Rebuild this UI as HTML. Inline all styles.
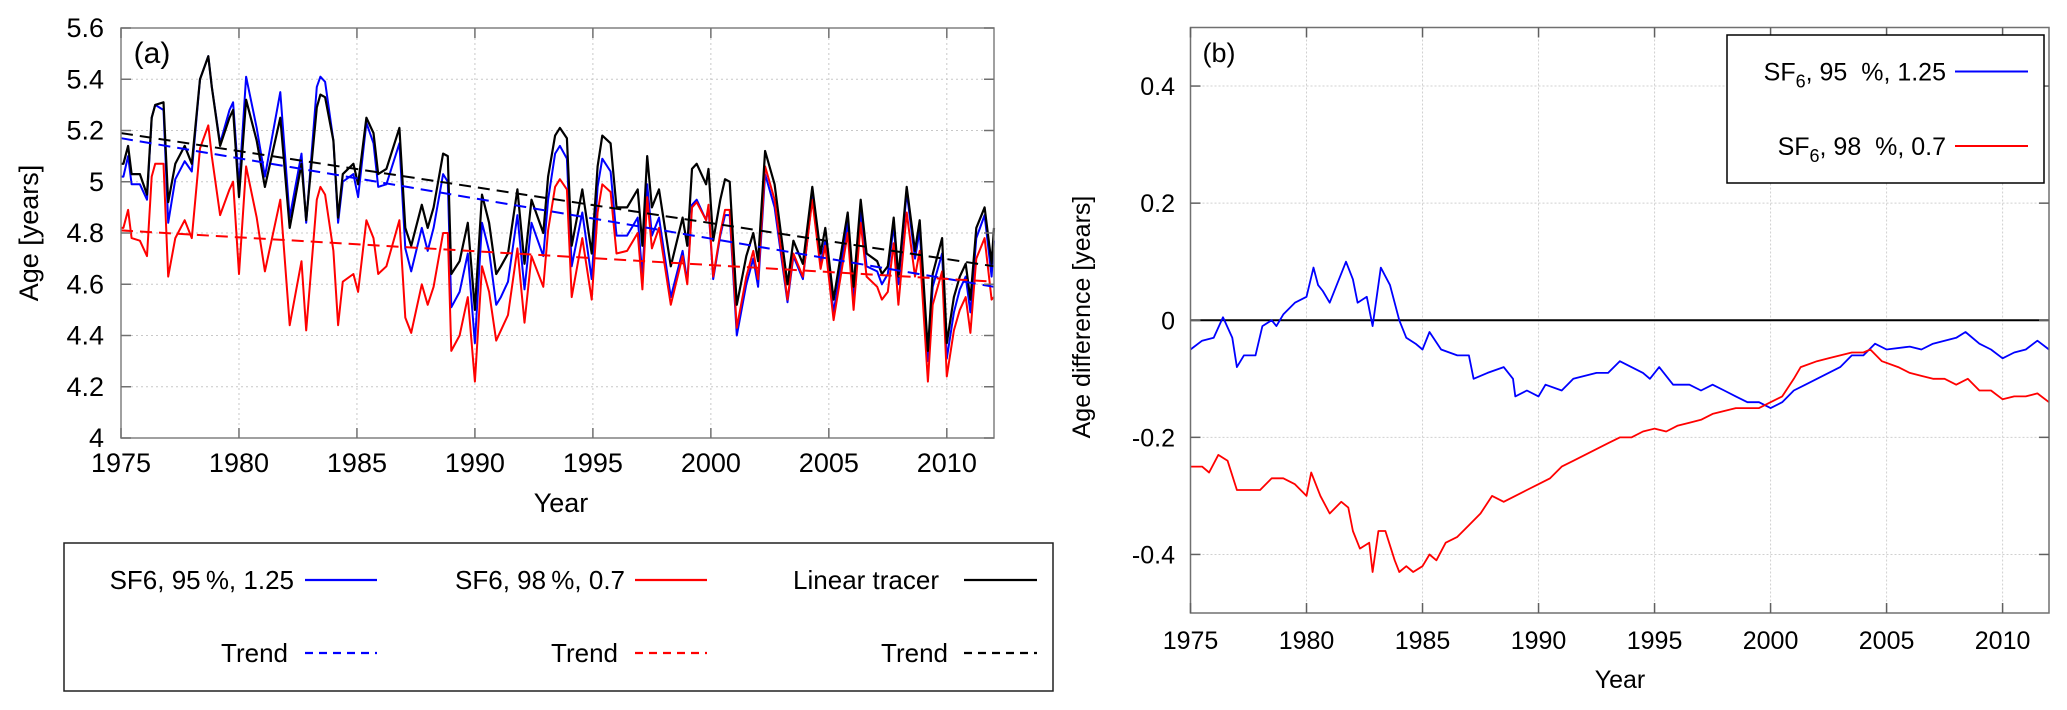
<!DOCTYPE html>
<html><head><meta charset="utf-8"><style>
body{margin:0;background:#fff}
svg{display:block;font-family:"Liberation Sans",Arial,sans-serif}
</style></head><body>
<svg id="fig" width="2067" height="710" viewBox="0 0 2067 710" xmlns="http://www.w3.org/2000/svg">
<g id="pa"></g>
<g id="pb"></g>
</svg>
<script>
// ---- Panel (a) data ----
const yearsA = [1975.02,1975.1,1975.3,1975.45,1975.8,1976.1,1976.3,1976.45,1976.8,1977.0,1977.3,1977.7,1978.0,1978.35,1978.7,1978.85,1979.2,1979.6,1979.75,1980.0,1980.3,1980.75,1981.1,1981.75,1982.15,1982.65,1982.85,1983.3,1983.45,1983.65,1984.0,1984.2,1984.4,1984.85,1985.05,1985.4,1985.7,1985.9,1986.25,1986.8,1987.05,1987.3,1987.75,1988.0,1988.25,1988.65,1988.85,1989.0,1989.35,1989.7,1990.0,1990.3,1990.6,1990.9,1991.1,1991.4,1991.8,1992.1,1992.4,1992.9,1993.1,1993.4,1993.6,1993.9,1994.1,1994.55,1994.95,1995.2,1995.4,1995.75,1996.0,1996.45,1996.9,1997.1,1997.3,1997.5,1997.8,1998.3,1998.8,1999.0,1999.2,1999.4,1999.8,1999.9,2000.1,2000.4,2000.6,2000.8,2001.1,2001.5,2001.8,2002.0,2002.3,2002.7,2003.25,2003.5,2003.9,2004.3,2004.65,2004.85,2005.2,2005.8,2006.05,2006.35,2006.6,2007.05,2007.25,2007.5,2007.75,2007.95,2008.3,2008.65,2008.85,2009.2,2009.4,2009.8,2010.0,2010.3,2010.55,2010.8,2011.0,2011.25,2011.6,2011.9,2012.0];
const linearA = [5.07,5.07,5.14,5.03,5.03,4.95,5.25,5.30,5.31,4.92,5.07,5.14,5.07,5.40,5.49,5.37,5.14,5.25,5.28,4.94,5.32,5.16,4.98,5.25,4.82,5.07,4.85,5.29,5.34,5.33,5.16,4.86,5.03,5.07,4.99,5.25,5.19,5.03,5.05,5.21,4.82,4.75,4.91,4.82,4.90,5.11,5.10,4.64,4.69,4.84,4.50,4.95,4.84,4.64,4.67,4.72,4.97,4.68,4.93,4.80,5.02,5.18,5.21,5.17,4.75,4.97,4.72,5.06,5.18,5.15,4.90,4.90,4.97,4.75,5.10,4.90,4.97,4.67,4.86,4.75,5.05,5.07,4.99,5.05,4.77,4.93,5.01,5.00,4.52,4.71,4.80,4.69,5.12,4.99,4.60,4.77,4.68,4.98,4.72,4.82,4.54,4.88,4.59,4.93,4.72,4.69,4.64,4.67,4.86,4.63,4.98,4.73,4.85,4.34,4.64,4.78,4.37,4.55,4.63,4.68,4.54,4.82,4.90,4.68,4.82];
const sf95A = [5.02,5.02,5.10,4.99,4.99,4.93,5.25,5.30,5.28,4.84,5.01,5.08,5.04,5.40,5.49,5.37,5.15,5.28,5.31,4.98,5.41,5.21,5.02,5.35,4.86,5.11,4.84,5.37,5.41,5.39,5.16,4.84,5.00,5.03,4.94,5.23,5.15,4.98,4.99,5.15,4.74,4.65,4.82,4.73,4.82,5.03,5.00,4.51,4.57,4.72,4.37,4.84,4.73,4.52,4.55,4.61,4.87,4.58,4.84,4.71,4.93,5.11,5.14,5.09,4.67,4.88,4.62,4.98,5.09,5.04,4.79,4.79,4.86,4.63,4.99,4.79,4.86,4.55,4.73,4.61,4.91,4.93,4.85,4.90,4.62,4.79,4.87,4.87,4.40,4.60,4.70,4.59,5.03,4.90,4.53,4.71,4.62,4.94,4.68,4.77,4.49,4.84,4.55,4.88,4.67,4.65,4.60,4.64,4.83,4.60,4.96,4.70,4.81,4.30,4.59,4.72,4.31,4.49,4.58,4.63,4.49,4.78,4.87,4.63,4.77];
const sf98A = [4.82,4.82,4.89,4.78,4.77,4.71,5.02,5.07,5.07,4.63,4.78,4.85,4.78,5.13,5.22,5.10,4.87,4.97,5.00,4.64,5.06,4.86,4.65,4.93,4.44,4.69,4.42,4.93,4.98,4.95,4.73,4.44,4.61,4.64,4.57,4.85,4.78,4.64,4.67,4.85,4.47,4.41,4.60,4.52,4.59,4.80,4.80,4.34,4.40,4.55,4.22,4.67,4.57,4.38,4.42,4.48,4.74,4.45,4.71,4.59,4.81,4.98,5.01,4.97,4.55,4.78,4.54,4.88,4.99,4.96,4.72,4.73,4.80,4.58,4.94,4.74,4.82,4.52,4.71,4.60,4.90,4.92,4.85,4.91,4.63,4.80,4.89,4.89,4.43,4.63,4.73,4.62,5.06,4.93,4.54,4.72,4.63,4.93,4.66,4.75,4.46,4.80,4.50,4.84,4.63,4.59,4.54,4.57,4.76,4.52,4.88,4.63,4.73,4.22,4.52,4.65,4.24,4.42,4.50,4.55,4.41,4.70,4.78,4.54,4.55];
const trendYears = [1975, 2012];
const trendLinear = [5.19, 4.67];
const trend95 = [5.17, 4.59];
const trend98 = [4.81, 4.61];
const xTicksA = [1975,1980,1985,1990,1995,2000,2005,2010];
const yTicksA = [4,4.2,4.4,4.6,4.8,5,5.2,5.4,5.6];
const yTickLabelsA = ["4","4.2","4.4","4.6","4.8","5","5.2","5.4","5.6"];

// ---- Panel (b) data ----
const yearsB95 = [1975.0,1975.5,1976.0,1976.4,1976.8,1977.0,1977.3,1977.8,1978.1,1978.5,1978.7,1979.0,1979.5,1980.0,1980.3,1980.5,1980.7,1981.0,1981.3,1981.7,1982.0,1982.2,1982.6,1982.85,1983.2,1983.6,1984.0,1984.3,1984.7,1985.0,1985.3,1985.8,1986.5,1987.0,1987.2,1987.8,1988.5,1988.9,1989.0,1989.5,1990.0,1990.3,1991.0,1991.5,1992.5,1993.0,1993.5,1994.0,1994.5,1994.8,1995.2,1995.8,1996.5,1997.0,1997.5,1998.0,1998.5,1999.0,1999.5,2000.0,2000.5,2001.0,2001.5,2002.0,2002.5,2003.0,2003.5,2004.0,2004.5,2005.0,2006.0,2006.5,2007.0,2007.5,2008.0,2008.4,2009.0,2009.5,2010.0,2010.5,2011.0,2011.5,2012.0];
const diff95 = [-0.05,-0.035,-0.03,0.005,-0.03,-0.08,-0.06,-0.06,-0.01,0.0,-0.01,0.01,0.03,0.04,0.09,0.06,0.05,0.03,0.06,0.1,0.07,0.03,0.04,-0.01,0.09,0.06,0.0,-0.03,-0.04,-0.05,-0.02,-0.05,-0.06,-0.06,-0.1,-0.09,-0.08,-0.1,-0.13,-0.12,-0.13,-0.11,-0.12,-0.1,-0.09,-0.09,-0.07,-0.08,-0.09,-0.1,-0.08,-0.11,-0.11,-0.12,-0.11,-0.12,-0.13,-0.14,-0.14,-0.15,-0.14,-0.12,-0.11,-0.1,-0.09,-0.08,-0.06,-0.06,-0.04,-0.05,-0.045,-0.05,-0.04,-0.035,-0.03,-0.02,-0.04,-0.05,-0.065,-0.055,-0.05,-0.035,-0.05];
const yearsB98 = [1975.0,1975.5,1975.8,1976.2,1976.6,1977.0,1977.5,1978.0,1978.5,1979.0,1979.5,1980.0,1980.2,1980.6,1981.0,1981.5,1981.8,1982.0,1982.3,1982.7,1982.85,1983.1,1983.4,1983.8,1984.0,1984.3,1984.6,1985.0,1985.3,1985.6,1986.0,1986.5,1987.0,1987.5,1988.0,1988.5,1989.0,1989.5,1990.0,1990.5,1991.0,1991.5,1992.0,1992.5,1993.0,1993.5,1994.0,1994.5,1995.0,1995.5,1996.0,1996.5,1997.0,1997.5,1998.0,1998.5,1999.0,1999.5,2000.0,2000.5,2001.0,2001.3,2002.0,2002.5,2003.0,2003.5,2004.0,2004.3,2004.8,2005.5,2006.0,2006.5,2007.0,2007.5,2008.0,2008.5,2009.0,2009.5,2010.0,2010.5,2011.0,2011.5,2012.0];
const diff98 = [-0.25,-0.25,-0.26,-0.23,-0.24,-0.29,-0.29,-0.29,-0.27,-0.27,-0.28,-0.3,-0.26,-0.3,-0.33,-0.31,-0.32,-0.36,-0.39,-0.38,-0.43,-0.36,-0.36,-0.41,-0.43,-0.42,-0.43,-0.42,-0.4,-0.41,-0.38,-0.37,-0.35,-0.33,-0.3,-0.31,-0.3,-0.29,-0.28,-0.27,-0.25,-0.24,-0.23,-0.22,-0.21,-0.2,-0.2,-0.19,-0.185,-0.19,-0.18,-0.175,-0.17,-0.16,-0.155,-0.15,-0.15,-0.15,-0.14,-0.13,-0.1,-0.08,-0.07,-0.065,-0.06,-0.055,-0.055,-0.05,-0.07,-0.08,-0.09,-0.095,-0.1,-0.1,-0.11,-0.1,-0.12,-0.12,-0.135,-0.13,-0.13,-0.125,-0.14];
const xTicksB = [1975,1980,1985,1990,1995,2000,2005,2010];
const yTicksB = [-0.4,-0.2,0,0.2,0.4];
const yTickLabelsB = ["-0.4","-0.2","0","0.2","0.4"];

const NS = "http://www.w3.org/2000/svg";
function mk(parent, tag, attrs, text){
  const e = document.createElementNS(NS, tag);
  for (const k in attrs) e.setAttribute(k, attrs[k]);
  if (text !== undefined) e.textContent = text;
  parent.appendChild(e);
  return e;
}
function pathD(xs, ys, sx, sy){
  return xs.map((x,i)=>(i?"L":"M")+sx(x).toFixed(1)+","+sy(ys[i]).toFixed(1)).join("");
}

// ===== Panel A =====
const pa = document.getElementById("pa");
const A = {l:121, r:994, t:28, b:438, x0:1975, x1:2012, y0:4, y1:5.6};
const sxA = v => A.l + (v - A.x0) / (A.x1 - A.x0) * (A.r - A.l);
const syA = v => A.b - (v - A.y0) / (A.y1 - A.y0) * (A.b - A.t);

const gridA = mk(pa, "g", {});


xTicksA.forEach(v=>{
  if (v>A.x0) { const l = mk(gridA,"line",{x1:sxA(v),x2:sxA(v),y1:A.t,y2:A.b,stroke:"#c8c8c8","stroke-width":1,"stroke-dasharray":"2,3"});
  
   }
});
yTicksA.forEach(v=>{
  if (v>A.y0 && v<A.y1) { const l = mk(gridA,"line",{x1:A.l,x2:A.r,y1:syA(v),y2:syA(v),stroke:"#c8c8c8","stroke-width":1,"stroke-dasharray":"2,3"});
  
   }
});

function series(parent, xs, ys, sx, sy, color, name, w, dash){
  const p = mk(parent,"path",{d:pathD(xs,ys,sx,sy),fill:"none",stroke:color,"stroke-width":w,"stroke-linejoin":"round"});
  if (dash) p.setAttribute("stroke-dasharray", dash);
  
  
  return p;
}
series(pa, yearsA, sf95A, sxA, syA, "#0000ff", "series-sf6-95", 2);
series(pa, yearsA, sf98A, sxA, syA, "#ff0000", "series-sf6-98", 2);
series(pa, yearsA, linearA, sxA, syA, "#000000", "series-linear-tracer", 2.2);
series(pa, trendYears, trend95, sxA, syA, "#0000ff", "trend-sf6-95", 2, "12,7");
series(pa, trendYears, trend98, sxA, syA, "#ff0000", "trend-sf6-98", 2, "12,7");
series(pa, trendYears, trendLinear, sxA, syA, "#000000", "trend-linear-tracer", 2, "12,7");

const frameA = mk(pa,"rect",{x:A.l,y:A.t,width:A.r-A.l,height:A.b-A.t,fill:"none",stroke:"#808080","stroke-width":1.5});



xTicksA.forEach(v=>{
  const x = sxA(v);
  mk(pa,"line",{x1:x,x2:x,y1:A.b,y2:A.b-10,stroke:"#707070","stroke-width":1.5});
  mk(pa,"line",{x1:x,x2:x,y1:A.t,y2:A.t+10,stroke:"#707070","stroke-width":1.5});
  const t = mk(pa,"text",{x:x,y:A.b+34,"text-anchor":"middle","font-size":27,fill:"#000"}, String(v));
  
  
});
yTicksA.forEach((v,i)=>{
  const y = syA(v);
  mk(pa,"line",{x1:A.l,x2:A.l+10,y1:y,y2:y,stroke:"#707070","stroke-width":1.5});
  mk(pa,"line",{x1:A.r,x2:A.r-10,y1:y,y2:y,stroke:"#707070","stroke-width":1.5});
  const t = mk(pa,"text",{x:104,y:y+9,"text-anchor":"end","font-size":27,fill:"#000"}, yTickLabelsA[i]);
  
  
});
let tt = mk(pa,"text",{x:152,y:63,"text-anchor":"middle","font-size":30,fill:"#000"},"(a)");


tt = mk(pa,"text",{x:561,y:512,"text-anchor":"middle","font-size":27,fill:"#000"},"Year");


tt = mk(pa,"text",{x:0,y:0,"text-anchor":"middle","font-size":27,fill:"#000",transform:"translate(38,233) rotate(-90)"},"Age [years]");



// legend A
const legA = mk(pa,"g",{});


mk(legA,"rect",{x:64,y:543,width:989,height:148,fill:"#fff",stroke:"#202020","stroke-width":1.5});
const legEntries = [
  {label:"SF6, 95\u2009%, 1.25", tx:294, lx0:305, lx1:377, y:580, c:"#0000ff", dash:null, name:"legend-entry-sf6-95"},
  {label:"SF6, 98\u2009%, 0.7", tx:625, lx0:635, lx1:707, y:580, c:"#ff0000", dash:null, name:"legend-entry-sf6-98"},
  {label:"Linear tracer", tx:939, lx0:964, lx1:1037, y:580, c:"#000000", dash:null, name:"legend-entry-linear-tracer"},
  {label:"Trend", tx:288, lx0:305, lx1:377, y:653, c:"#0000ff", dash:"8,6", name:"legend-entry-trend-sf6-95"},
  {label:"Trend", tx:618, lx0:635, lx1:707, y:653, c:"#ff0000", dash:"8,6", name:"legend-entry-trend-sf6-98"},
  {label:"Trend", tx:948, lx0:964, lx1:1037, y:653, c:"#000000", dash:"8,6", name:"legend-entry-trend-linear"}
];
legEntries.forEach(e=>{
  const g = mk(legA,"g",{});
  
  
  mk(g,"text",{x:e.tx,y:e.y+9,"text-anchor":"end","font-size":26,fill:"#000"},e.label);
  const l = mk(g,"line",{x1:e.lx0,x2:e.lx1,y1:e.y,y2:e.y,stroke:e.c,"stroke-width":2.2});
  if (e.dash) l.setAttribute("stroke-dasharray", e.dash);
});

// ===== Panel B =====
const pb = document.getElementById("pb");
const B = {l:1190.5, r:2049, t:27.5, b:613, x0:1975, x1:2012, y0:-0.5, y1:0.5};
const sxB = v => B.l + (v - B.x0) / (B.x1 - B.x0) * (B.r - B.l);
const syB = v => B.b - (v - B.y0) / (B.y1 - B.y0) * (B.b - B.t);

const gridB = mk(pb,"g",{});


xTicksB.forEach(v=>{
  if (v>B.x0) { const l = mk(gridB,"line",{x1:sxB(v),x2:sxB(v),y1:B.t,y2:B.b,stroke:"#d0d0d0","stroke-width":1,"stroke-dasharray":"2,2"});
  
   }
});
yTicksB.forEach(v=>{
  const l = mk(gridB,"line",{x1:B.l,x2:B.r,y1:syB(v),y2:syB(v),stroke:"#d0d0d0","stroke-width":1,"stroke-dasharray":"2,2"});
  
  
});
const zl = mk(pb,"line",{x1:B.l,x2:B.r,y1:syB(0),y2:syB(0),stroke:"#000","stroke-width":2});


series(pb, yearsB95, diff95, sxB, syB, "#0000ff", "series-diff-sf6-95", 1.8);
series(pb, yearsB98, diff98, sxB, syB, "#ff0000", "series-diff-sf6-98", 1.8);

const frameB = mk(pb,"rect",{x:B.l,y:B.t,width:B.r-B.l,height:B.b-B.t,fill:"none",stroke:"#707070","stroke-width":1.5});


xTicksB.forEach(v=>{
  const x = sxB(v);
  mk(pb,"line",{x1:x,x2:x,y1:B.b,y2:B.b-10,stroke:"#606060","stroke-width":1.5});
  mk(pb,"line",{x1:x,x2:x,y1:B.t,y2:B.t+10,stroke:"#606060","stroke-width":1.5});
  const t = mk(pb,"text",{x:x,y:B.b+36,"text-anchor":"middle","font-size":25,fill:"#000"},String(v));
  
  
});
yTicksB.forEach((v,i)=>{
  const y = syB(v);
  mk(pb,"line",{x1:B.l,x2:B.l+10,y1:y,y2:y,stroke:"#606060","stroke-width":1.5});
  mk(pb,"line",{x1:B.r,x2:B.r-10,y1:y,y2:y,stroke:"#606060","stroke-width":1.5});
  const t = mk(pb,"text",{x:1175,y:y+9,"text-anchor":"end","font-size":25,fill:"#000"},yTickLabelsB[i]);
  
  
});
tt = mk(pb,"text",{x:1219,y:62,"text-anchor":"middle","font-size":27,fill:"#000"},"(b)");


tt = mk(pb,"text",{x:1620,y:688,"text-anchor":"middle","font-size":25,fill:"#000"},"Year");


tt = mk(pb,"text",{x:0,y:0,"text-anchor":"middle","font-size":25,fill:"#000",transform:"translate(1090,317) rotate(-90)"},"Age difference [years]");



const legB = mk(pb,"g",{});


mk(legB,"rect",{x:1727,y:35,width:317,height:148,fill:"#fff",stroke:"#000","stroke-width":1.5});
[{rest:", 95  %, 1.25", y:71.5, c:"#0000ff", name:"legend-entry-diff-sf6-95"},
 {rest:", 98  %, 0.7", y:146, c:"#ff0000", name:"legend-entry-diff-sf6-98"}].forEach(e=>{
  const g = mk(legB,"g",{});
  
  
  const t = mk(g,"text",{x:1946,y:e.y+9,"text-anchor":"end","font-size":25,fill:"#000","xml:space":"preserve"});
  t.style.whiteSpace = "pre";
  mk(t,"tspan",{},"SF");
  mk(t,"tspan",{dy:7,"font-size":18},"6");
  mk(t,"tspan",{dy:-7},e.rest);
  mk(g,"line",{x1:1955,x2:2028,y1:e.y,y2:e.y,stroke:e.c,"stroke-width":2});
});
</script>
</body></html>
